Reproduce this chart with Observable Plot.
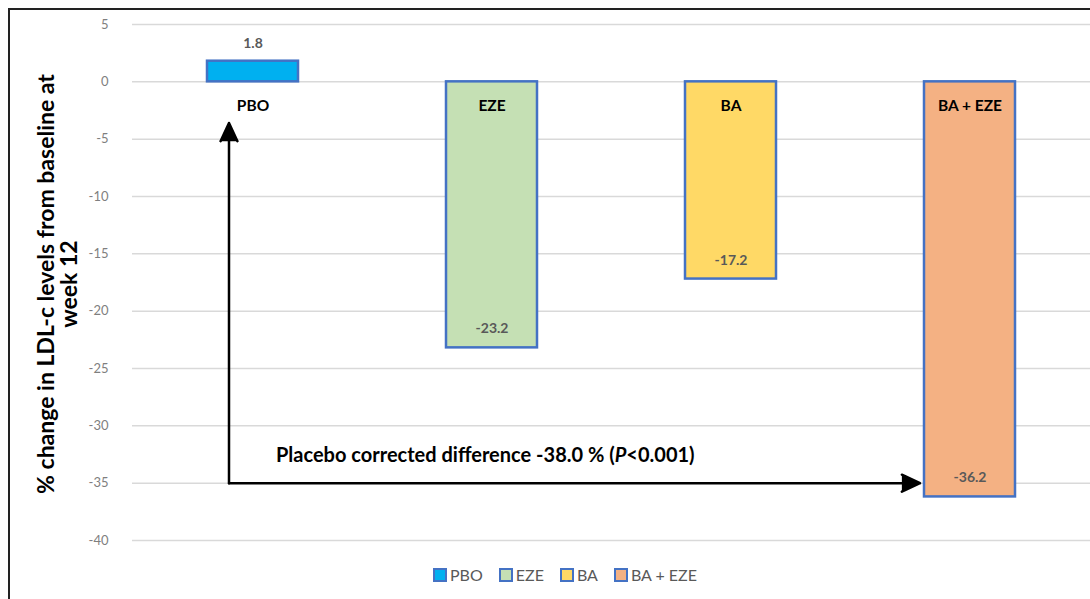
<!DOCTYPE html>
<html>
<head>
<meta charset="utf-8">
<script src="https://cdn.jsdelivr.net/npm/d3@7"></script>
<script src="https://cdn.jsdelivr.net/npm/@observablehq/plot@0.6"></script>
<style>
  html, body { margin: 0; padding: 0; background: #fff; }
  #wrap { position: relative; width: 1090px; height: 599px; overflow: hidden; font-family: Lato, "Noto Sans", sans-serif; }
  #frame { position: absolute; left: 8px; top: 8px; width: 1100px; height: 620px; border-left: 2px solid #222; border-top: 2px solid #222; box-sizing: border-box; pointer-events: none; }
  #chart { position: absolute; left: 0; top: 0; }
  #ylabel { position: absolute; left: 57px; top: 284px; transform: translate(-50%, -50%) rotate(-90deg); white-space: nowrap; text-align: center; font-weight: bold; font-size: 23px; line-height: 23px; color: #000; }
  #legend { position: absolute; top: 565px; left: 0; width: 1130px; display: flex; justify-content: center; gap: 16px; font-size: 16px; color: #595959; }
  .item { display: flex; align-items: center; gap: 3px; }
  .sw { width: 10px; height: 10px; border: 2px solid #4472c4; }
</style>
</head>
<body>
<div id="wrap">
  <div id="chart"></div>
  <div id="frame"></div>
  <div id="ylabel">% change in LDL-c levels from baseline at<br>week 12</div>
  <div id="legend"></div>
</div>
<script>
const categories = ["PBO", "EZE", "BA", "BA + EZE"];
const values = [1.8, -23.2, -17.2, -36.2];
const fills = ["#00b0f0", "#c5e0b4", "#ffd966", "#f4b183"];
const yTicks = [5, 0, -5, -10, -15, -20, -25, -30, -35, -40];
const annotation = "Placebo corrected difference -38.0 % (P<0.001)";
const arrowFromY = -35;
const arrowToY = -3.6;

const data = categories.map((c, i) => ({cat: c, value: values[i], fill: fills[i]}));

const plot = Plot.plot({
  width: 1090,
  height: 560,
  marginLeft: 132,
  marginRight: 0,
  marginTop: 24,
  marginBottom: 20,
  style: {fontFamily: "Lato, 'Noto Sans', sans-serif", background: "transparent"},
  x: {domain: categories, padding: 0, axis: null},
  y: {domain: [-40, 5], ticks: yTicks, label: null, tickSize: 0, tickPadding: 24},
  marks: [
    Plot.gridY(yTicks, {stroke: "#d9d9d9", strokeOpacity: 1, strokeWidth: 1.5}),
    Plot.axisY(yTicks, {tickSize: 0, tickPadding: 24, fill: "#7f7f7f", fontSize: 13, label: null, tickFormat: d => String(d)}),
    Plot.barY(data, {x: "cat", y: "value", fill: "fill", stroke: "#4472c4", strokeWidth: 2.5, insetLeft: 74, insetRight: 74}),
    // category labels
    Plot.text(data, {x: "cat", y: () => 0, text: "cat", dy: 24, fontWeight: "bold", fontSize: 15.5, fill: "#000"}),
    // value labels
    Plot.text(data.filter(d => d.value > 0), {x: "cat", y: "value", text: d => d.value.toFixed(1), dy: -18, fontWeight: "bold", fontSize: 14, fill: "#595959"}),
    Plot.text(data.filter(d => d.value < 0), {x: "cat", y: "value", text: d => d.value.toFixed(1), dy: -19, fontWeight: "bold", fontSize: 14, fill: "#595959"}),
    // arrows
    Plot.arrow([{x1: categories[0], x2: categories[0], y1: arrowFromY, y2: arrowToY}], {
      x1: "x1", x2: "x2", y1: "y1", y2: "y2", dx: -24, stroke: "#000", fill: "#000", strokeWidth: 2.5, headLength: 12, headAngle: 50
    }),
    Plot.arrow([{x1: categories[0], x2: categories[3], y1: arrowFromY, y2: arrowFromY}], {
      x1: "x1", x2: "x2", y1: "y1", y2: "y2", dx: -24, insetEnd: 26, stroke: "#000", fill: "#000", strokeWidth: 2.5, headLength: 12, headAngle: 50
    }),
    Plot.text([{x: categories[0], y: arrowFromY, t: annotation}], {x: "x", y: "y", text: "t", dx: 23, dy: -28, textAnchor: "start", fontWeight: "bold", fontSize: 20, fill: "#000", className: "annot"})
  ]
});
document.getElementById("chart").appendChild(plot);

// italicise the P in the annotation
d3.select(plot).selectAll("g.annot text").each(function() {
  const t = d3.select(this);
  const s = t.text();
  const i = s.indexOf("(P<");
  if (i >= 0) {
    t.text(null);
    t.append("tspan").text(s.slice(0, i + 1));
    t.append("tspan").attr("font-style", "italic").text("P");
    t.append("tspan").text(s.slice(i + 2));
  }
});

const legend = document.getElementById("legend");
categories.forEach((c, i) => {
  const it = document.createElement("div");
  it.className = "item";
  const sw = document.createElement("span");
  sw.className = "sw";
  sw.style.background = fills[i];
  const lb = document.createElement("span");
  lb.textContent = c;
  it.appendChild(sw); it.appendChild(lb);
  legend.appendChild(it);
});
</script>
</body>
</html>
